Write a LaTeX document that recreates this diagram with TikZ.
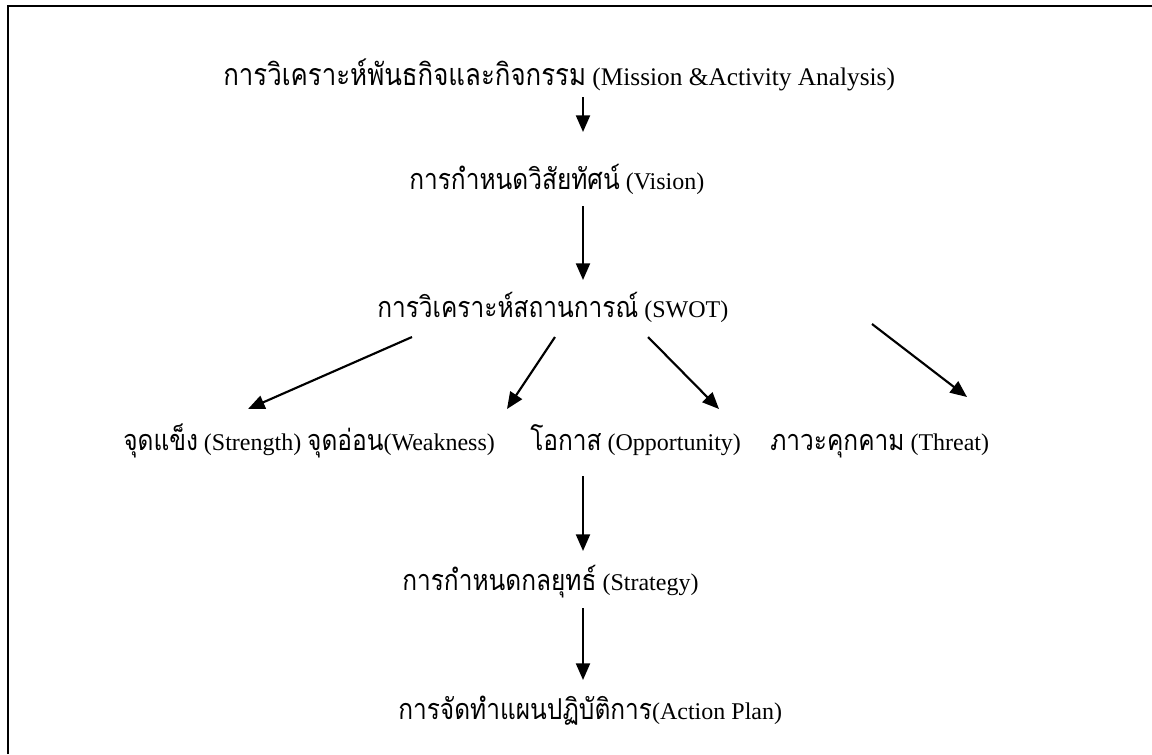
\documentclass[tikz,border=0pt]{standalone}
\usepackage{fontspec}
\setmainfont{Liberation Serif}
\newfontfamily\thaifont[Script=Thai,Scale=1.2,FakeStretch=0.85]{Loma}
\newcommand{\thx}[1]{{\thaifont #1}}
\usetikzlibrary{arrows.meta}
\begin{document}
\begin{tikzpicture}[x=0.75pt,y=-0.75pt,
  lbl/.style={inner sep=0pt, anchor=base west, font=\fontsize{18}{22}\selectfont},
  head/.style={lbl, font=\fontsize{19}{23}\selectfont},
  arr/.style={line width=1.6pt, -{Triangle[length=12.5pt,width=10.5pt]}},
  frame/.style={line width=1.8pt}]
\useasboundingbox (0,0) rectangle (1152,754);
% open frame: left and top edges
\draw[frame] (8,754) -- (8,6) -- (1152,6);

% planning steps
\node[head] (mission) at (223,85) {\thx{การวิเคราะห์พันธกิจและกิจกรรม} (Mission \&Activity Analysis)};
\node[lbl] (vision) at (409,189) {\thx{การกำหนดวิสัยทัศน์} (Vision)};
\node[lbl] (swot) at (377,317) {\thx{การวิเคราะห์สถานการณ์} (SWOT)};
\node[lbl] (strength) at (123,450) {\thx{จุดแข็ง} (Strength)};
\node[lbl, xshift=4pt] (weakness) at (strength.base east) {\thx{จุดอ่อน}(Weakness)};
\node[lbl] (opportunity) at (530,450) {\thx{โอกาส} (Opportunity)};
\node[lbl] (threat) at (770,450) {\thx{ภาวะคุกคาม} (Threat)};
\node[lbl] (strategy) at (402,590) {\thx{การกำหนดกลยุทธ์} (Strategy)};
\node[lbl] (action) at (398,719) {\thx{การจัดทำแผนปฏิบัติการ}(Action Plan)};

% arrow end points
\coordinate (m1) at (583,97);   \coordinate (v1) at (583,132);
\coordinate (v2) at (583,206);  \coordinate (s1) at (583,280);
\coordinate (s2) at (412,337);  \coordinate (st) at (248,409);
\coordinate (s3) at (555,337);  \coordinate (wk) at (507,409);
\coordinate (s4) at (648,337);  \coordinate (op) at (719,409);
\coordinate (s5) at (872,324);  \coordinate (th) at (967,397);
\coordinate (o1) at (583,476);  \coordinate (g1) at (583,551);
\coordinate (g2) at (583,608);  \coordinate (a1) at (583,680);

\draw[arr] (m1) -- (v1);
\draw[arr] (v2) -- (s1);
\draw[arr] (s2) -- (st);
\draw[arr] (s3) -- (wk);
\draw[arr] (s4) -- (op);
\draw[arr] (s5) -- (th);
\draw[arr] (o1) -- (g1);
\draw[arr] (g2) -- (a1);
\end{tikzpicture}
\end{document}
